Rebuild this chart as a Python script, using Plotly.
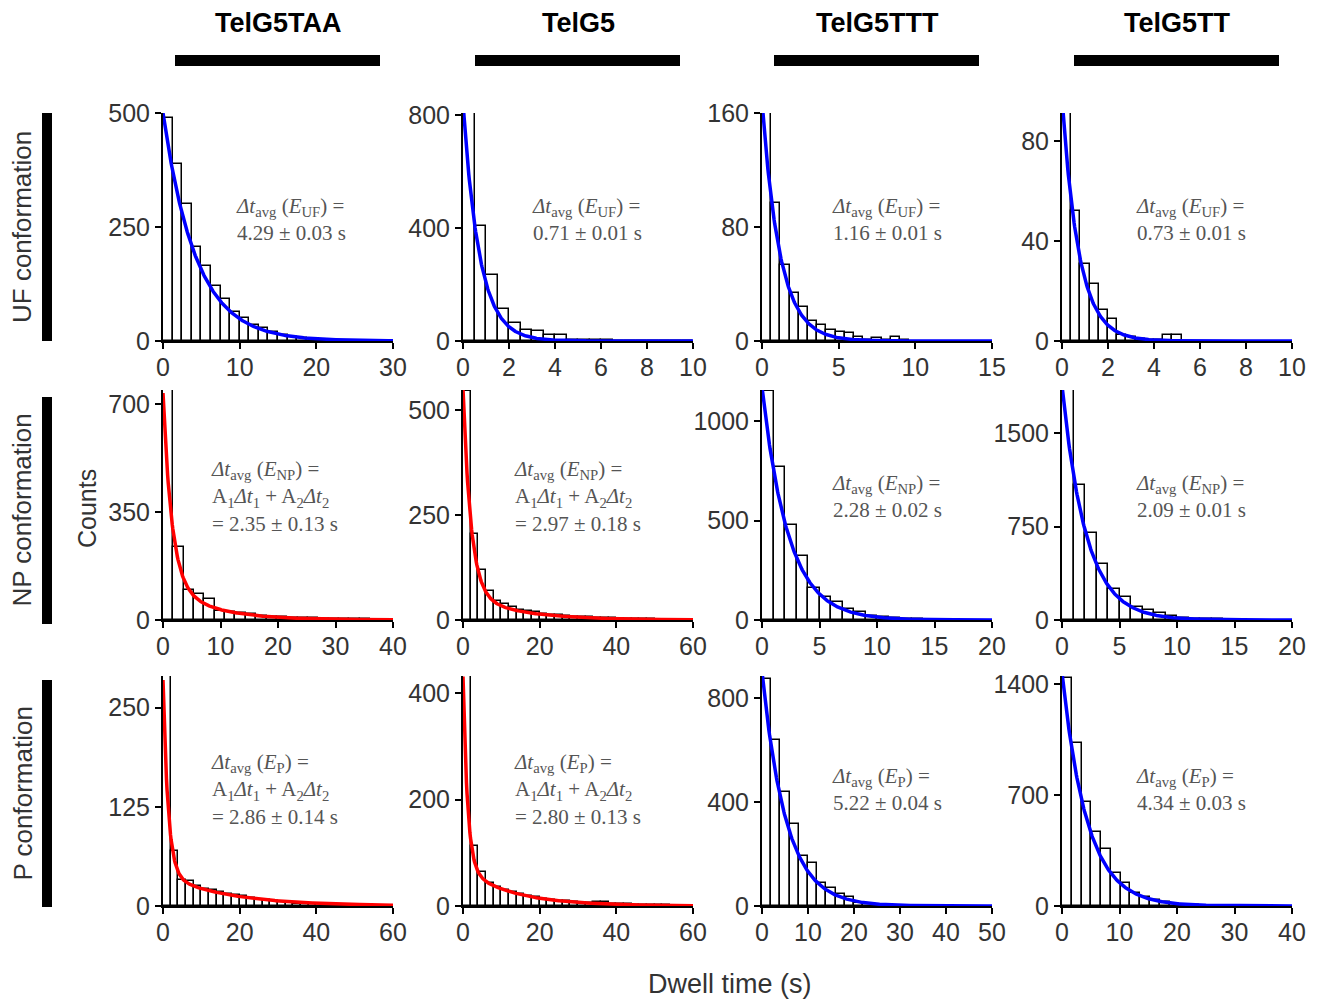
import numpy as np
import plotly.graph_objects as go

W, H = 1320, 1000

constructs = ["TelG5TAA", "TelG5", "TelG5TTT", "TelG5TT"]
conformations = ["UF conformation", "NP conformation", "P conformation"]
state_subs = ["UF", "NP", "P"]

# ---- histogram counts ----
uf_telg5taa = [490, 388, 300, 206, 164, 120, 93, 64, 50, 36, 28, 20, 13, 9, 6, 4, 2, 1]
uf_telg5 = [808, 407, 235, 115, 64, 39, 35, 23, 21, 4, 3, 2, 2, 1, 1, 1, 1, 1, 0, 1]
uf_telg5ttt = [161, 97, 53, 34, 24, 14, 11, 8, 6.5, 5.5, 3, 1, 2, 1, 3, 1]
uf_telg5tt = [92, 52, 31, 23, 12.6, 8.8, 2.5, 1.5, 1, 0.5, 0.5, 2.5, 2.5]
np_telg5taa = [745, 236, 97, 85, 68, 30, 26, 22, 18, 14, 11, 9, 7, 6, 5, 4, 3, 3, 2, 2, 1, 1]
np_telg5 = [546, 205, 119, 68, 46, 37, 30, 25, 21, 18, 15, 13, 11, 9, 8, 7, 6, 5, 4, 4, 3, 3, 2, 2, 2, 1, 1, 1, 1, 1]
np_telg5ttt = [1152, 769, 477, 320, 162, 118, 89, 56, 42, 22, 13, 8, 5, 3, 2, 1]
np_telg5tt = [1844, 1083, 694, 446, 250, 183, 102, 81, 54, 35, 20, 12, 8, 5, 3, 2]
p_telg5taa = [290, 69, 33, 31, 25, 22, 20, 18, 15, 14, 13, 10, 8, 7, 6, 5, 4, 3, 3, 2, 2, 2, 1, 1, 1]
p_telg5 = [433, 112, 64, 43, 36, 30, 26, 22, 19, 16, 14, 12, 10, 9, 7, 6, 5, 8, 7, 4, 3, 3, 2, 2, 1, 1, 1]
p_telg5ttt = [874, 639, 439, 316, 191, 165, 88, 68, 45, 36, 12, 6, 3, 2, 1]
p_telg5tt = [1436, 1026, 655, 467, 359, 211, 144, 84, 59, 38, 27, 15, 9, 5, 3, 2]

counts = [
    [uf_telg5taa, uf_telg5, uf_telg5ttt, uf_telg5tt],
    [np_telg5taa, np_telg5, np_telg5ttt, np_telg5tt],
    [p_telg5taa, p_telg5, p_telg5ttt, p_telg5tt],
]
bin_widths = [
    [1.25, 0.5, 0.6, 0.4],
    [1.8, 2.0, 1.0, 1.0],
    [2.0, 2.0, 2.0, 1.7],
]
x_max = [
    [30, 10, 15, 10],
    [40, 60, 20, 20],
    [60, 60, 50, 40],
]
x_ticks = [
    [[0, 10, 20, 30], [0, 2, 4, 6, 8, 10], [0, 5, 10, 15], [0, 2, 4, 6, 8, 10]],
    [[0, 10, 20, 30, 40], [0, 20, 40, 60], [0, 5, 10, 15, 20], [0, 5, 10, 15, 20]],
    [[0, 20, 40, 60], [0, 20, 40, 60], [0, 10, 20, 30, 40, 50], [0, 10, 20, 30, 40]],
]
y_max = [
    [500, 807, 160, 91.2],
    [745, 548, 1156, 1845],
    [290, 432, 884, 1450],
]
y_ticks = [
    [[0, 250, 500], [0, 400, 800], [0, 80, 160], [0, 40, 80]],
    [[0, 350, 700], [0, 250, 500], [0, 500, 1000], [0, 750, 1500]],
    [[0, 125, 250], [0, 200, 400], [0, 400, 800], [0, 700, 1400]],
]

# ---- fit parameters (mono-exponential: blue; bi-exponential: red) ----
# each entry: (A1, tau1, A2, tau2); A2 = 0 for mono-exponential fits
fit_params = [
    [(500, 4.29, 0, 1), (840, 0.71, 0, 1), (168, 1.16, 0, 1), (97, 0.73, 0, 1)],
    [(610, 1.5, 125, 7.5), (486, 2.04, 64, 13.1), (1170, 2.28, 0, 1), (1880, 2.09, 0, 1)],
    [(245, 1.3, 40, 16.5), (360, 1.16, 71, 12.6), (900, 5.22, 0, 1), (1470, 4.34, 0, 1)],
]
fit_colors = [
    ["#0000ff", "#0000ff", "#0000ff", "#0000ff"],
    ["#ff0000", "#ff0000", "#0000ff", "#0000ff"],
    ["#ff0000", "#ff0000", "#0000ff", "#0000ff"],
]
avg_values = [
    ["4.29 ± 0.03 s", "0.71 ± 0.01 s", "1.16 ± 0.01 s", "0.73 ± 0.01 s"],
    ["2.35 ± 0.13 s", "2.97 ± 0.18 s", "2.28 ± 0.02 s", "2.09 ± 0.01 s"],
    ["2.86 ± 0.14 s", "2.80 ± 0.13 s", "5.22 ± 0.04 s", "4.34 ± 0.03 s"],
]

# ---- layout geometry (pixels) ----
col_x = [(163, 393), (463, 693), (762, 992), (1062, 1292)]
row_y = [(113, 341), (390, 620), (676, 906)]
ann_left = [[234, 530, 830, 1134], [209, 512, 830, 1134], [209, 512, 830, 1134]]
ann_cy = [220, 496, 789]

def px(x):
    return x / W

def py(y):
    return 1 - y / H

fig = go.Figure()
layout = {}
annotations = []
shapes = []

tick_font = dict(family="Liberation Sans, Arial, sans-serif", size=25, color="#333333")
serif = dict(family="Liberation Serif, Times New Roman, serif", size=21, color="#555555")

k = 0
for r in range(3):
    for c in range(4):
        k += 1
        xa = "x" if k == 1 else f"x{k}"
        ya = "y" if k == 1 else f"y{k}"
        xkey = "xaxis" if k == 1 else f"xaxis{k}"
        ykey = "yaxis" if k == 1 else f"yaxis{k}"
        vals = counts[r][c]
        w = bin_widths[r][c]
        centers = [w * (i + 0.5) for i in range(len(vals))]
        fig.add_trace(go.Bar(
            x=centers, y=vals, width=w, xaxis=xa, yaxis=ya,
            marker=dict(color="white", line=dict(color="black", width=1.5)),
            showlegend=False, hoverinfo="skip",
        ))
        A1, t1, A2, t2 = fit_params[r][c]
        t = np.linspace(0, x_max[r][c], 400)
        fit = A1 * np.exp(-t / t1) + A2 * np.exp(-t / t2)
        fig.add_trace(go.Scatter(
            x=t, y=fit, mode="lines", xaxis=xa, yaxis=ya,
            line=dict(color=fit_colors[r][c], width=3.5),
            showlegend=False, hoverinfo="skip",
        ))
        layout[xkey] = dict(
            domain=[px(col_x[c][0]), px(col_x[c][1])], anchor=ya,
            range=[0, x_max[r][c]], tickvals=x_ticks[r][c],
            showline=True, linecolor="black", linewidth=2,
            ticks="outside", ticklen=6, tickwidth=2, tickcolor="black",
            ticklabelstandoff=-3,
            showgrid=False, zeroline=False, tickfont=tick_font, automargin=False,
        )
        layout[ykey] = dict(
            domain=[py(row_y[r][1]), py(row_y[r][0])], anchor=xa,
            range=[0, y_max[r][c]], tickvals=y_ticks[r][c],
            showline=True, linecolor="black", linewidth=2,
            ticks="outside", ticklen=6, tickwidth=2, tickcolor="black",
            showgrid=False, zeroline=False, tickfont=tick_font, automargin=False,
        )
        head = f"<i>Δt</i><sub>avg</sub> (<i>E</i><sub>{state_subs[r]}</sub>) ="
        if A2 > 0:
            text = (head + "<br>A<sub>1</sub><i>Δt</i><sub>1</sub> + A<sub>2</sub><i>Δt</i><sub>2</sub>"
                    + "<br>= " + avg_values[r][c])
        else:
            text = head + "<br>" + avg_values[r][c]
        annotations.append(dict(
            x=px(ann_left[r][c]), y=py(ann_cy[r]), xref="paper", yref="paper",
            xanchor="left", yanchor="middle", align="left", showarrow=False,
            text=text, font=serif,
        ))

# column titles and bars
for c, name in enumerate(constructs):
    cx = (col_x[c][0] + col_x[c][1]) / 2
    annotations.append(dict(
        x=px(cx), y=py(23), xref="paper", yref="paper", showarrow=False,
        text=f"<b>{name}</b>", xanchor="center", yanchor="middle",
        font=dict(family="Liberation Sans, Arial, sans-serif", size=27, color="black"),
    ))
    shapes.append(dict(
        type="rect", xref="paper", yref="paper",
        x0=px(col_x[c][0] + 12), x1=px(col_x[c][1] - 13), y0=py(66), y1=py(55),
        fillcolor="black", line=dict(width=0),
    ))

# row labels and bars
row_bar = [(113, 341), (397, 624), (680, 907)]
for r, name in enumerate(conformations):
    cy = (row_bar[r][0] + row_bar[r][1]) / 2
    annotations.append(dict(
        x=px(22), y=py(cy), xref="paper", yref="paper", showarrow=False,
        text=name, textangle=-90, xanchor="center", yanchor="middle",
        font=dict(family="Liberation Sans, Arial, sans-serif", size=26, color="#333333"),
    ))
    shapes.append(dict(
        type="rect", xref="paper", yref="paper",
        x0=px(42), x1=px(52), y0=py(row_bar[r][1]), y1=py(row_bar[r][0]),
        fillcolor="black", line=dict(width=0),
    ))

annotations.append(dict(
    x=px(87), y=py(508), xref="paper", yref="paper", showarrow=False,
    text="Counts", textangle=-90, xanchor="center", yanchor="middle",
    font=dict(family="Liberation Sans, Arial, sans-serif", size=25, color="#333333"),
))
annotations.append(dict(
    x=px(730), y=py(984), xref="paper", yref="paper", showarrow=False,
    text="Dwell time (s)", xanchor="center", yanchor="middle",
    font=dict(family="Liberation Sans, Arial, sans-serif", size=27, color="#333333"),
))

fig.update_layout(
    width=W, height=H, margin=dict(l=0, r=0, t=0, b=0, autoexpand=False),
    paper_bgcolor="white", plot_bgcolor="white",
    annotations=annotations, shapes=shapes, bargap=0,
    **layout,
)

fig.write_html("out.html")
